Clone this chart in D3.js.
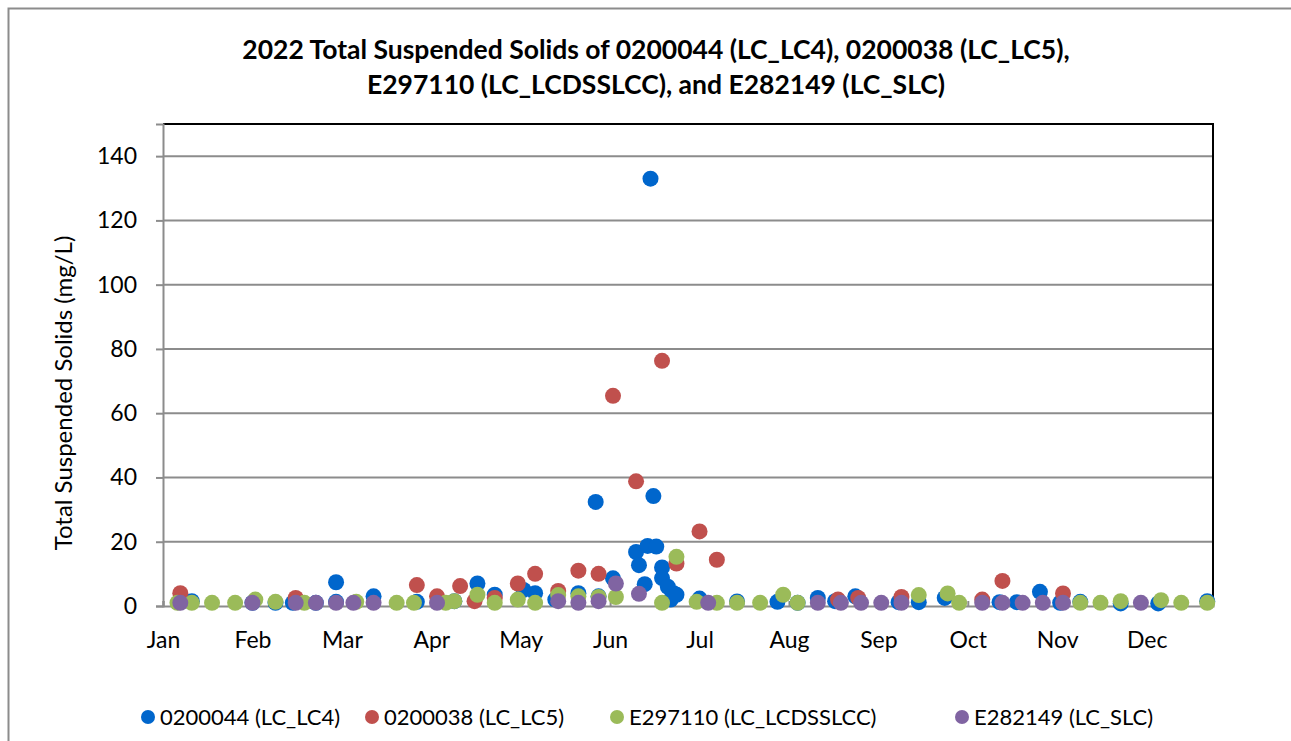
<!DOCTYPE html>
<html>
<head>
<meta charset="utf-8">
<script src="https://cdn.jsdelivr.net/npm/d3@7"></script>
<style>
  body { margin: 0; background: white; }
  text { font-family: Lato, "Open Sans", sans-serif; fill: #000; }
</style>
</head>
<body>
<svg id="chart" width="1291" height="741"></svg>
<script>
// series data: [date, mg/L]
const lc4 = [
  ["2022-01-11", 1.5], ["2022-02-01", 1], ["2022-02-09", 1], ["2022-02-15", 1], ["2022-02-23", 1],
  ["2022-03-02", 7.4], ["2022-03-02", 1.3], ["2022-03-15", 3], ["2022-03-30", 1.3], ["2022-04-12", 1.5],
  ["2022-04-20", 7], ["2022-04-26", 3.5], ["2022-05-06", 5], ["2022-05-10", 4], ["2022-05-17", 2],
  ["2022-05-25", 4], ["2022-05-31", 32.4], ["2022-06-01", 3], ["2022-06-06", 8.6], ["2022-06-14", 16.8],
  ["2022-06-15", 12.7], ["2022-06-17", 6.8], ["2022-06-18", 18.7], ["2022-06-19", 133], ["2022-06-20", 34.2],
  ["2022-06-21", 18.5], ["2022-06-23", 12], ["2022-06-23", 8.7], ["2022-06-25", 6], ["2022-06-26", 2],
  ["2022-06-27", 4], ["2022-06-28", 3.5], ["2022-07-06", 2.3], ["2022-07-19", 1.4], ["2022-08-02", 1.3],
  ["2022-08-09", 1], ["2022-08-16", 2.5], ["2022-08-22", 1.5], ["2022-08-29", 3], ["2022-09-13", 1.2],
  ["2022-09-20", 1.2], ["2022-09-29", 2.5], ["2022-10-18", 1.2], ["2022-10-24", 1.2], ["2022-11-01", 4.4],
  ["2022-11-08", 1], ["2022-11-15", 1.3], ["2022-11-29", 0.8], ["2022-12-12", 0.8], ["2022-12-29", 1.5]
];
const lc5 = [
  ["2022-01-07", 4], ["2022-02-16", 2.5], ["2022-03-30", 6.5], ["2022-04-06", 3], ["2022-04-14", 6.2],
  ["2022-04-19", 1.5], ["2022-04-26", 2.5], ["2022-05-04", 7], ["2022-05-10", 10], ["2022-05-18", 4.7],
  ["2022-05-25", 11], ["2022-06-01", 10], ["2022-06-06", 65.4], ["2022-06-14", 38.8], ["2022-06-23", 76.3],
  ["2022-06-28", 13.2], ["2022-07-06", 23.2], ["2022-07-12", 14.4], ["2022-08-23", 2], ["2022-08-30", 2.5],
  ["2022-09-14", 2.8], ["2022-10-12", 2], ["2022-10-19", 7.8], ["2022-11-09", 3.9]
];
const lcdsslcc = [
  ["2022-01-06", 1], ["2022-01-11", 1], ["2022-01-18", 1], ["2022-01-26", 1], ["2022-02-02", 2],
  ["2022-02-09", 1.3], ["2022-02-19", 1], ["2022-03-09", 1.3], ["2022-03-23", 1], ["2022-03-29", 1],
  ["2022-04-09", 1], ["2022-04-12", 1.5], ["2022-04-20", 3.5], ["2022-04-26", 1], ["2022-05-04", 2],
  ["2022-05-10", 1], ["2022-05-18", 3.4], ["2022-05-25", 3], ["2022-06-01", 2.8], ["2022-06-07", 2.8],
  ["2022-06-23", 1], ["2022-06-28", 15.3], ["2022-07-05", 1.3], ["2022-07-12", 1], ["2022-07-19", 1],
  ["2022-07-27", 1], ["2022-08-04", 3.5], ["2022-08-09", 1], ["2022-09-20", 3.4], ["2022-09-30", 3.9],
  ["2022-10-04", 1], ["2022-11-15", 1], ["2022-11-22", 1], ["2022-11-29", 1.5], ["2022-12-13", 1.8],
  ["2022-12-20", 1], ["2022-12-29", 1]
];
const slc = [
  ["2022-01-07", 1], ["2022-02-01", 1], ["2022-02-16", 1], ["2022-02-23", 1], ["2022-03-02", 1],
  ["2022-03-08", 1], ["2022-03-15", 1], ["2022-04-06", 1], ["2022-05-18", 1.5], ["2022-05-25", 1],
  ["2022-06-01", 1.5], ["2022-06-07", 7], ["2022-06-15", 3.8], ["2022-07-09", 1], ["2022-08-16", 1],
  ["2022-08-24", 1], ["2022-08-31", 1], ["2022-09-07", 1], ["2022-09-14", 1], ["2022-10-12", 1],
  ["2022-10-19", 1], ["2022-10-26", 1], ["2022-11-02", 1], ["2022-11-09", 1], ["2022-12-06", 1]
];

const seriesNames = ["0200044 (LC_LC4)", "0200038 (LC_LC5)", "E297110 (LC_LCDSSLCC)", "E282149 (LC_SLC)"];
const seriesColors = ["#0066CC", "#C0504D", "#9BBB59", "#8064A2"];
const seriesData = [lc4, lc5, lcdsslcc, slc];

const yTicks = [0, 20, 40, 60, 80, 100, 120, 140];
const titleLines = [
  "2022 Total Suspended Solids of 0200044 (LC_LC4), 0200038 (LC_LC5),",
  "E297110 (LC_LCDSSLCC), and E282149 (LC_SLC)"
];
const yLabel = "Total Suspended Solids (mg/L)";

const parseDate = d3.timeParse("%Y-%m-%d");
const svg = d3.select("#chart");

// chart frame (only top/left visible in the picture)
svg.append("rect")
  .attr("x", 8.5).attr("y", 8.5)
  .attr("width", 1400).attr("height", 900)
  .attr("fill", "white")
  .attr("stroke", "#8c8c8c")
  .attr("stroke-width", 2);

const plot = { left: 163, right: 1213, top: 124, bottom: 606 };

const x = d3.scaleTime()
  .domain([parseDate("2022-01-01"), parseDate("2022-12-31")])
  .range([plot.left, plot.right]);
const y = d3.scaleLinear().domain([0, 150]).range([plot.bottom, plot.top]);

// axis ticks every 31 days, like the source axis
const xTicks = d3.range(0, 12).map(i => d3.timeDay.offset(parseDate("2022-01-01"), i * 31));

// gridlines
svg.append("g")
  .selectAll("line")
  .data(yTicks.filter(d => d > 0))
  .enter().append("line")
  .attr("x1", plot.left).attr("x2", plot.right)
  .attr("y1", d => y(d)).attr("y2", d => y(d))
  .attr("stroke", "#8c8c8c")
  .attr("stroke-width", 2);

// plot border top/right
svg.append("path")
  .attr("d", `M${plot.left},${plot.top}H${plot.right}V${plot.bottom}`)
  .attr("fill", "none")
  .attr("stroke", "#000")
  .attr("stroke-width", 2);

// y axis
const yAxis = svg.append("g")
  .attr("transform", `translate(${plot.left},0)`)
  .call(d3.axisLeft(y).tickValues(yTicks).tickSize(7).tickPadding(19));
yAxis.select(".domain").attr("stroke", "#8c8c8c").attr("stroke-width", 2);
yAxis.selectAll(".tick line").attr("stroke", "#8c8c8c").attr("stroke-width", 2);
yAxis.selectAll(".tick text")
  .style("font-size", "23px")
  .attr("fill", "#000");

// x axis
const xAxis = svg.append("g")
  .attr("transform", `translate(0,${plot.bottom})`)
  .call(d3.axisBottom(x).tickValues(xTicks).tickFormat(d3.timeFormat("%b")).tickSize(-5).tickPadding(26));
xAxis.select(".domain").attr("stroke", "#8c8c8c").attr("stroke-width", 2);
xAxis.selectAll(".tick line").attr("stroke", "#8c8c8c").attr("stroke-width", 2);
xAxis.selectAll(".tick text")
  .style("font-size", "23px")
  .attr("fill", "#000");

// points
seriesData.forEach((data, i) => {
  svg.append("g")
    .selectAll("circle")
    .data(data)
    .enter().append("circle")
    .attr("cx", d => x(parseDate(d[0])))
    .attr("cy", d => y(d[1]))
    .attr("r", 8)
    .attr("fill", seriesColors[i]);
});

// title
svg.append("g")
  .selectAll("text")
  .data(titleLines)
  .enter().append("text")
  .attr("x", 656)
  .attr("y", (d, i) => 59 + i * 35)
  .attr("text-anchor", "middle")
  .style("font-size", "26.5px")
  .style("font-weight", "bold")
  .text(d => d);

// y label
svg.append("text")
  .attr("transform", "translate(72,393) rotate(-90)")
  .attr("text-anchor", "middle")
  .style("font-size", "24px")
  .text(yLabel);

// legend
const legendX = [148, 372, 617, 962];
const legend = svg.append("g");
seriesNames.forEach((name, i) => {
  legend.append("circle")
    .attr("cx", legendX[i]).attr("cy", 717).attr("r", 7)
    .attr("fill", seriesColors[i]);
  legend.append("text")
    .attr("x", legendX[i] + 12).attr("y", 725)
    .style("font-size", "22px")
    .text(name);
});
</script>
</body>
</html>
